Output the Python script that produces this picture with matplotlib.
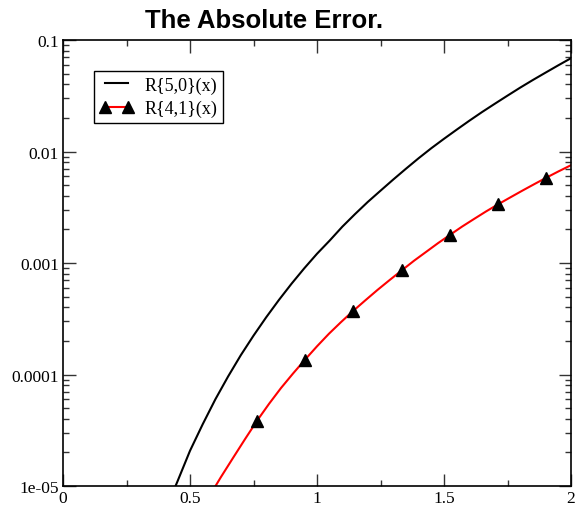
import matplotlib
matplotlib.use("Agg")
import matplotlib.pyplot as plt
from matplotlib.ticker import FixedLocator, FixedFormatter, LogLocator, NullFormatter

# values
x_50 = [0.43, 0.45, 0.5, 0.55, 0.6, 0.65, 0.7, 0.75, 0.8, 0.85, 0.9, 0.95, 1.0,
        1.05, 1.1, 1.15, 1.2, 1.25, 1.3, 1.35, 1.4, 1.45, 1.5, 1.55, 1.6,
        1.65, 1.7, 1.75, 1.8, 1.85, 1.9, 1.95, 2.0]
err_50 = [8.5e-6, 1.09e-5, 2.07e-5, 3.58e-5, 6.0e-5, 9.6e-5, 1.49e-4, 2.23e-4, 3.26e-4,
          4.66e-4, 6.53e-4, 8.97e-4, 1.21e-3, 1.59e-3, 2.12e-3, 2.75e-3, 3.53e-3,
          4.45e-3, 5.6e-3, 7.0e-3, 8.7e-3, 1.07e-2, 1.30e-2, 1.57e-2, 1.89e-2,
          2.26e-2, 2.68e-2, 3.17e-2, 3.74e-2, 4.38e-2, 5.1e-2, 5.93e-2, 6.87e-2]

x_41 = [0.574, 0.6215, 0.669, 0.7165, 0.764, 0.811, 0.858, 0.9055, 0.953, 1.0,
        1.047, 1.0945, 1.142, 1.19, 1.238, 1.2865, 1.335, 1.3825, 1.43, 1.477,
        1.524, 1.571, 1.618, 1.6655, 1.713, 1.7605, 1.808, 1.855, 1.902, 1.9495, 1.997]
err_41 = [7.94e-6, 1.20e-5, 1.78e-5, 2.63e-5, 3.85e-5, 5.45e-5, 7.55e-5, 1.02e-4,
          1.36e-4, 1.79e-4, 2.32e-4, 2.95e-4, 3.71e-4, 4.62e-4, 5.73e-4, 7.05e-4,
          8.63e-4, 1.05e-3, 1.26e-3, 1.51e-3, 1.79e-3, 2.12e-3, 2.48e-3, 2.90e-3,
          3.36e-3, 3.87e-3, 4.45e-3, 5.09e-3, 5.81e-3, 6.61e-3, 7.48e-3]

xticks = [0, 0.5, 1, 1.5, 2]
xtick_labels = ["0", "0.5", "1", "1.5", "2"]
yticks = [1e-5, 1e-4, 1e-3, 1e-2, 1e-1]
ytick_labels = ["1e-05", "0.0001", "0.001", "0.01", "0.1"]

fig = plt.figure(figsize=(5.78, 5.06), dpi=100)
ax = fig.add_axes([63/578, 1 - 487/506, 508/578, 446/506])

ax.plot(x_50, err_50, color="black", lw=1.5, label="R{5,0}(x)")
ax.plot(x_41, err_41, color="red", lw=1.5, marker="^", markersize=8,
        markerfacecolor="black", markeredgecolor="black",
        markevery=list(range(4, len(x_41), 4)), label="R{4,1}(x)")

ax.set_yscale("log")
ax.set_xlim(0, 2)
ax.set_ylim(1e-5, 0.1)

ax.xaxis.set_major_locator(FixedLocator(xticks))
ax.xaxis.set_major_formatter(FixedFormatter(xtick_labels))
ax.xaxis.set_minor_locator(FixedLocator([0.25, 0.75, 1.25, 1.75]))
ax.yaxis.set_major_locator(FixedLocator(yticks))
ax.yaxis.set_major_formatter(FixedFormatter(ytick_labels))
ax.yaxis.set_minor_locator(LogLocator(base=10, subs=range(2, 10)))
ax.yaxis.set_minor_formatter(NullFormatter())

ax.tick_params(which="both", direction="in", top=True, right=True, width=1, color="#333333")
ax.tick_params(which="major", length=9, labelsize=12.5, pad=3)
ax.tick_params(which="minor", length=4.5)
for lab in ax.get_xticklabels() + ax.get_yticklabels():
    lab.set_family("Liberation Serif")
for s in ax.spines.values():
    s.set_linewidth(1.2)

fig.text(264/578, 1 - 28/506, "The Absolute Error.", fontsize=18.5, fontweight="bold",
         family="Liberation Sans", ha="center", va="baseline")

leg = ax.legend(loc="upper left", bbox_to_anchor=(31/508, 1 - 31/446),
                prop={"family": "Liberation Serif", "size": 13},
                fancybox=False, edgecolor="black", framealpha=1,
                handlelength=1.9, borderpad=0.3, labelspacing=0.35,
                handletextpad=0.6, borderaxespad=0, numpoints=2)
leg.get_frame().set_linewidth(1.0)

fig.savefig("out.png", dpi=100)
